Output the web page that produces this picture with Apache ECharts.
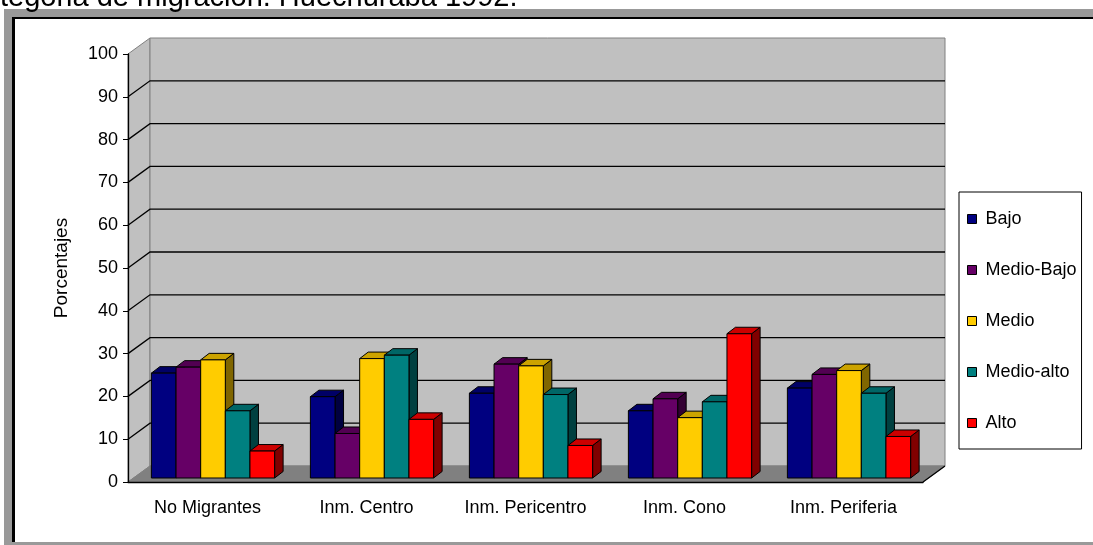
<!DOCTYPE html>
<html>
<head>
<meta charset="utf-8">
<script src="https://cdn.jsdelivr.net/npm/echarts@6/dist/echarts.min.js"></script>
<style>
  html, body { margin: 0; padding: 0; background: #fff; }
  #chart { width: 1093px; height: 545px; }
</style>
</head>
<body>
<div id="chart"></div>
<script>
// datos (porcentajes)
var categories = ['No Migrantes', 'Inm. Centro', 'Inm. Pericentro', 'Inm. Cono', 'Inm. Periferia'];
var levels = ['Bajo', 'Medio-Bajo', 'Medio', 'Medio-alto', 'Alto'];
var bajo      = [24.5, 19.0, 19.8, 15.7, 21.0];
var medioBajo = [25.9, 10.4, 26.6, 18.5, 24.2];
var medio     = [27.6, 27.9, 26.2, 14.1, 25.1];
var medioAlto = [15.7, 28.7, 19.5, 17.8, 19.8];
var alto      = [6.3, 13.7, 7.6, 33.7, 9.7];
var gridValues = [10, 20, 30, 40, 50, 60, 70, 80, 90];
var yMin = 0, yMax = 100, yStep = 10;

var seriesValues = [bajo, medioBajo, medio, medioAlto, alto];
var colors = ['#000080', '#660066', '#ffcc00', '#008080', '#ff0000'];
var font = "'Liberation Sans', Arial, sans-serif";

// profundidad 3D (pixeles)
var DX = 22, DY = -16;      // pared del fondo
var FDX = 5.5, FDY = -4;    // cara frontal de las barras
var BDX = 8.5, BDY = -6.5;  // grosor de las barras

function shade(hex, k) {
  var n = parseInt(hex.slice(1), 16);
  var r = Math.round(((n >> 16) & 255) * k);
  var g = Math.round(((n >> 8) & 255) * k);
  var b = Math.round((n & 255) * k);
  return 'rgb(' + r + ',' + g + ',' + b + ')';
}

function renderWalls(params, api) {
  var band = api.size([1, 0])[0];
  var x0 = api.coord([0, 0])[0] - band / 2;
  var x1 = api.coord([categories.length - 1, 0])[0] + band / 2;
  var y0 = api.coord([0, yMin])[1];
  var yT = api.coord([0, yMax])[1];
  var kids = [];
  kids.push({ type: 'polygon', shape: { points: [[x0, yT], [x0 + DX, yT + DY], [x0 + DX, y0 + DY], [x0, y0]] },
    style: { fill: '#c0c0c0', stroke: '#808080', lineWidth: 1 } });
  kids.push({ type: 'rect', shape: { x: x0 + DX, y: yT + DY, width: x1 - x0, height: y0 - yT },
    style: { fill: '#c0c0c0', stroke: '#808080', lineWidth: 1 } });
  kids.push({ type: 'polygon', shape: { points: [[x0, y0], [x0 + DX, y0 + DY], [x1 + DX, y0 + DY], [x1, y0]] },
    style: { fill: '#808080', stroke: '#808080', lineWidth: 1 } });
  gridValues.forEach(function (v) {
    var y = api.coord([0, v])[1];
    kids.push({ type: 'polyline', shape: { points: [[x0, y], [x0 + DX, y + DY], [x1 + DX, y + DY]] },
      style: { stroke: '#000', lineWidth: 1.3, fill: null } });
  });
  kids.push({ type: 'line', shape: { x1: x1, y1: y0, x2: x1 + DX, y2: y0 + DY },
    style: { stroke: '#000', lineWidth: 1.3 } });
  return { type: 'group', children: kids };
}

function barRenderer(si) {
  return function (params, api) {
    var cat = api.value(0), val = api.value(1);
    var band = api.size([1, 0])[0];
    var bw = band * 0.155;
    var base = api.coord([cat, 0]);
    var top = api.coord([cat, val]);
    var xl = base[0] - bw * levels.length / 2 + si * bw + FDX;
    var xr = xl + bw;
    var yb = base[1] + FDY, yt = top[1] + FDY;
    var c = colors[si];
    return { type: 'group', children: [
      { type: 'polygon', shape: { points: [[xr, yt], [xr + BDX, yt + BDY], [xr + BDX, yb + BDY], [xr, yb]] },
        style: { fill: shade(c, 0.5), stroke: '#000', lineWidth: 1 } },
      { type: 'polygon', shape: { points: [[xl, yt], [xl + BDX, yt + BDY], [xr + BDX, yt + BDY], [xr, yt]] },
        style: { fill: shade(c, 0.8), stroke: '#000', lineWidth: 1 } },
      { type: 'rect', shape: { x: xl, y: yt, width: bw, height: yb - yt },
        style: { fill: c, stroke: '#000', lineWidth: 1 } }
    ] };
  };
}

var series = [{
  name: 'paredes',
  type: 'custom',
  renderItem: renderWalls,
  data: [[0, 0]],
  z: 1,
  silent: true
}];
levels.forEach(function (name, si) {
  series.push({
    name: name,
    type: 'custom',
    renderItem: barRenderer(si),
    encode: { x: 0, y: 1 },
    itemStyle: { color: colors[si] },
    data: seriesValues[si].map(function (v, i) { return [i, v]; }),
    z: 2
  });
});

var chart = echarts.init(document.getElementById('chart'));
chart.setOption({
  animation: false,
  backgroundColor: '#fff',
  graphic: [
    { type: 'rect', z: -10, shape: { x: 4, y: 9, width: 1200, height: 600 }, style: { fill: '#999999' } },
    { type: 'rect', z: -10, shape: { x: 12, y: 17, width: 1200, height: 525 }, style: { fill: '#000' } },
    { type: 'rect', z: -10, shape: { x: 15, y: 19, width: 1200, height: 523 }, style: { fill: '#fff' } }
  ],
  title: {
    text: 'tegoria de migración. Huechuraba 1992.',
    left: 0,
    top: -17,
    padding: 0,
    textStyle: { fontSize: 29, fontWeight: 'normal', fontFamily: font, color: '#000', lineHeight: 29 }
  },
  legend: {
    data: levels,
    orient: 'vertical',
    left: 959,
    top: 192,
    padding: [18, 5, 17, 8],
    itemGap: 33,
    itemWidth: 9,
    itemHeight: 9,
    icon: 'rect',
    borderColor: '#000',
    borderWidth: 1,
    backgroundColor: '#fff',
    itemStyle: { borderColor: '#000', borderWidth: 1 },
    textStyle: { fontSize: 18, fontFamily: font, color: '#000', lineHeight: 18, padding: [0, 0, 0, 4] }
  },
  grid: { left: 128, top: 54, width: 795, height: 428 },
  xAxis: {
    type: 'category',
    data: categories,
    z: 5,
    axisLine: { lineStyle: { color: '#000', width: 1.3 } },
    axisTick: { length: 7, lineStyle: { color: '#000' } },
    axisLabel: { fontSize: 18, fontFamily: font, color: '#000', margin: 17 }
  },
  yAxis: {
    type: 'value',
    min: yMin,
    max: yMax,
    interval: yStep,
    z: 5,
    name: 'Porcentajes',
    nameLocation: 'middle',
    nameRotate: 90,
    nameGap: 57,
    nameTextStyle: { fontSize: 19, fontFamily: font, color: '#000' },
    axisLine: { show: true, lineStyle: { color: '#000', width: 1.3 } },
    axisTick: { show: true, length: 5, lineStyle: { color: '#000' } },
    axisLabel: { fontSize: 18, fontFamily: font, color: '#000', margin: 10 },
    splitLine: { show: false }
  },
  series: series
});
</script>
</body>
</html>
